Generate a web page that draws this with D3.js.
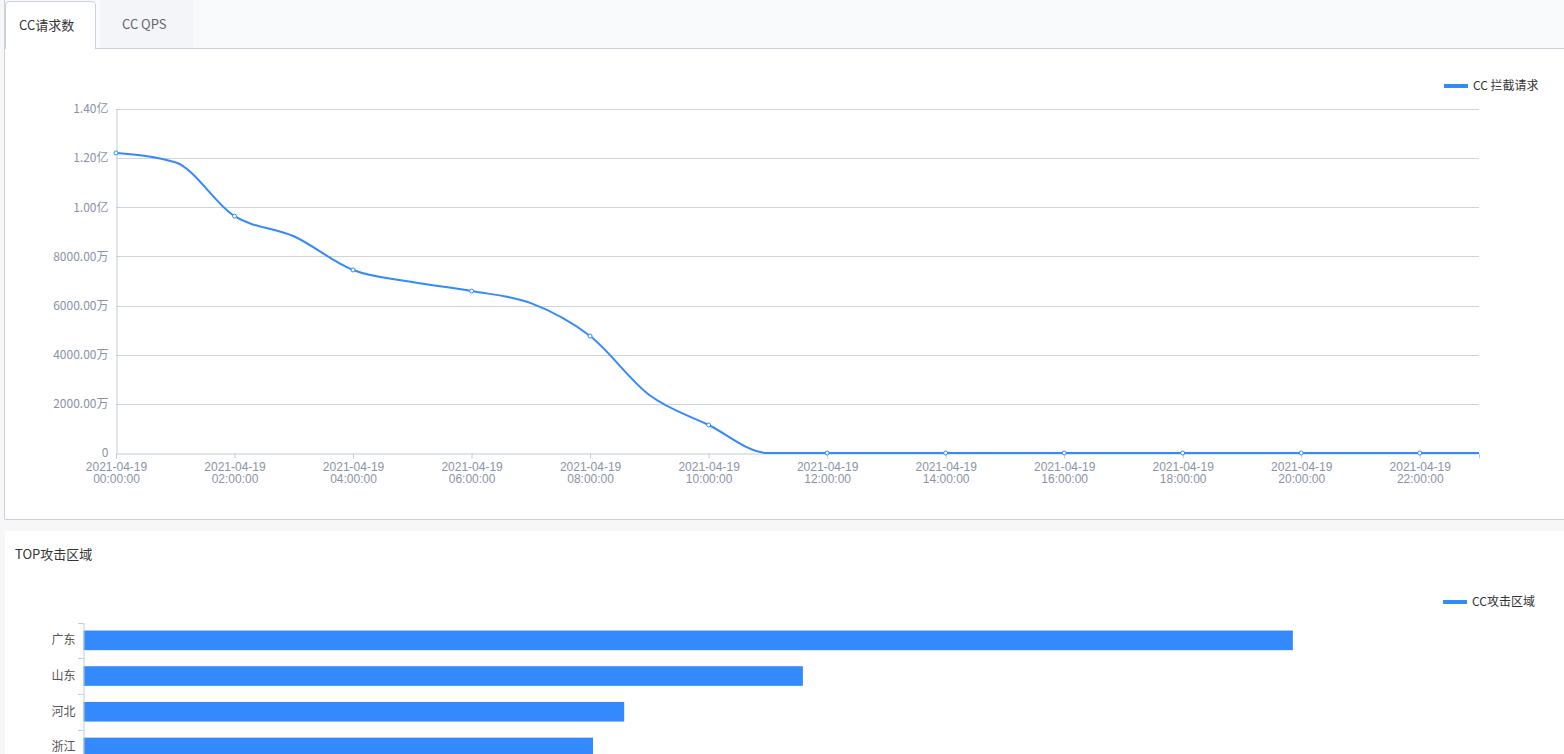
<!DOCTYPE html>
<html lang="zh">
<head>
<meta charset="UTF-8">
<title>CC请求数</title>
<script src="https://cdnjs.cloudflare.com/ajax/libs/d3/7.4.4/d3.min.js"></script>
<style>
    body {
        margin: 0;
        width: 1564px;
        height: 754px;
        overflow: hidden;
        background: #f7f7f8;
        font-family: "Noto Sans CJK SC", "Noto Sans", sans-serif;
    }
    svg { display: block; }
</style>
</head>
<body>
<svg id="chart" width="1564" height="754"></svg>
<script>
    // hourly CC blocked requests, 2021-04-19
    const hours = d3.range(24).map(h => "2021-04-19 " + String(h).padStart(2, "0") + ":00:00");
    const ccRequests = [
        122100000, 118300000, 96400000, 88200000, 74500000, 69600000,
        65900000, 61000000, 47600000, 23600000, 11400000, 0,
        0, 0, 0, 0, 0, 0, 0, 0, 0, 0, 0, 0
    ];
    const yTicks = [0, 20000000, 40000000, 60000000, 80000000, 100000000, 120000000, 140000000];

    // top attack regions
    const regions = ["广东", "山东", "河北", "浙江", "江苏"];
    const regionValues = [26000, 15470, 11630, 10960, 9800];

    const blue = "#348afd";
    const axisText = "#8a93a6";
    const gridColor = "#cfd3da";

    const svg = d3.select("#chart");

    // ---------- top panel ----------
    svg.append("rect").attr("x", 5).attr("y", 0).attr("width", 1570).attr("height", 519).attr("fill", "#fff");
    svg.append("path").attr("d", "M4.5,0 L4.5,519.5 L1564,519.5").attr("fill", "none").attr("stroke", "#c9d1dc");
    // tab strip
    svg.append("rect").attr("x", 5).attr("y", 0).attr("width", 1570).attr("height", 48).attr("fill", "#f9fafb");
    svg.append("rect").attr("x", 100).attr("y", 0).attr("width", 93).attr("height", 48).attr("fill", "#f3f5f9");
    svg.append("line").attr("x1", 95).attr("x2", 1564).attr("y1", 48.5).attr("y2", 48.5).attr("stroke", "#c9d1dc");
    svg.append("path")
        .attr("d", "M5.5,49 L5.5,5 Q5.5,1.5 9,1.5 L91,1.5 Q95.5,1.5 95.5,5 L95.5,49")
        .attr("fill", "#fff").attr("stroke", "#c9d1dc");
    svg.append("text").attr("x", 19).attr("y", 30).attr("font-size", 13).attr("fill", "#333").text("CC请求数");
    svg.append("text").attr("x", 122).attr("y", 29).attr("font-size", 13).attr("fill", "#666").text("CC QPS");

    const x = d3.scalePoint().domain(hours).range([116, 1479]);
    const y = d3.scaleLinear().domain([0, 140000000]).range([453, 109]);

    const fmtY = v => v === 0 ? "0" : v >= 100000000 ? (v / 100000000).toFixed(2) + "亿" : (v / 10000).toFixed(2) + "万";

    // grid
    svg.append("g").selectAll("line").data(yTicks.filter(d => d > 0)).join("line")
        .attr("x1", 116).attr("x2", 1479)
        .attr("y1", d => Math.round(y(d)) + 0.5).attr("y2", d => Math.round(y(d)) + 0.5)
        .attr("stroke", gridColor);

    const yAxis = svg.append("g").attr("transform", "translate(116.5,0)")
        .call(d3.axisLeft(y).tickValues(yTicks).tickFormat(fmtY).tickSize(0).tickPadding(8));
    yAxis.select(".domain").attr("stroke", "#c2ccd8");
    yAxis.selectAll("text").attr("fill", axisText).attr("font-size", 12)
        .attr("font-family", "'Noto Sans CJK SC', sans-serif");

    const labelHours = hours.filter((d, i) => i % 2 === 0);
    const xAxis = svg.append("g").attr("transform", "translate(0,453.5)")
        .call(d3.axisBottom(x).tickValues(labelHours).tickSize(5).tickFormat(""));
    xAxis.select(".domain").attr("stroke", "#c2ccd8");
    xAxis.selectAll(".tick line").attr("stroke", "#c2ccd8");
    xAxis.selectAll(".tick").each(function (d) {
        const t = d3.select(this).append("text").attr("fill", axisText).attr("font-size", 12)
            .attr("text-anchor", "middle");
        t.append("tspan").attr("x", 0).attr("y", 17).text(d.slice(0, 10));
        t.append("tspan").attr("x", 0).attr("y", 29).text(d.slice(11));
    });

    const line = d3.line().x((d, i) => x(hours[i])).y(d => y(d)).curve(d3.curveMonotoneX);
    svg.append("path").datum(ccRequests).attr("d", line)
        .attr("fill", "none").attr("stroke", blue).attr("stroke-width", 2);
    svg.append("g").selectAll("circle").data(ccRequests.map((v, i) => [i, v]).filter(d => d[0] % 2 === 0))
        .join("circle")
        .attr("cx", d => x(hours[d[0]])).attr("cy", d => y(d[1])).attr("r", 2)
        .attr("fill", "#fff").attr("stroke", blue).attr("stroke-width", 1);

    // legend
    svg.append("line").attr("x1", 1444).attr("x2", 1468).attr("y1", 86).attr("y2", 86)
        .attr("stroke", blue).attr("stroke-width", 4);
    svg.append("text").attr("x", 1473).attr("y", 90).attr("font-size", 12).attr("fill", "#333").text("CC 拦截请求");

    // ---------- bottom panel ----------
    svg.append("rect").attr("x", 5).attr("y", 531).attr("width", 1570).attr("height", 300).attr("fill", "#fff");
    svg.append("text").attr("x", 15).attr("y", 559).attr("font-size", 13).attr("fill", "#333").text("TOP攻击区域");

    svg.append("line").attr("x1", 1443).attr("x2", 1467).attr("y1", 602).attr("y2", 602)
        .attr("stroke", blue).attr("stroke-width", 4);
    svg.append("text").attr("x", 1472).attr("y", 606).attr("font-size", 12).attr("fill", "#333").text("CC攻击区域");

    const bx = d3.scaleLinear().domain([0, 30000]).range([83, 1479]);
    const by = d3.scaleBand().domain(regions).range([622.5, 622.5 + 35.7 * regions.length]).paddingInner(0.45).paddingOuter(0.225);

    svg.append("g").selectAll("rect").data(regions).join("rect")
        .attr("x", 83.5).attr("y", d => by(d)).attr("height", by.bandwidth())
        .attr("width", (d, i) => bx(regionValues[i]) - 83.5)
        .attr("fill", blue);

    const rAxis = svg.append("g").attr("transform", "translate(83.5,0)")
        .call(d3.axisLeft(by).tickSize(0).tickPadding(8));
    rAxis.select(".domain").attr("stroke", "#c2ccd8");
    rAxis.selectAll("text").attr("fill", "#555").attr("font-size", 12)
        .attr("font-family", "'Noto Sans CJK SC', sans-serif");
    // boundary ticks between categories
    svg.append("g").selectAll("line").data(d3.range(regions.length + 1)).join("line")
        .attr("x1", 78).attr("x2", 83.5)
        .attr("y1", i => Math.round(622.5 + 35.7 * i) + 0.5).attr("y2", i => Math.round(622.5 + 35.7 * i) + 0.5)
        .attr("stroke", "#c2ccd8");
</script>
</body>
</html>
